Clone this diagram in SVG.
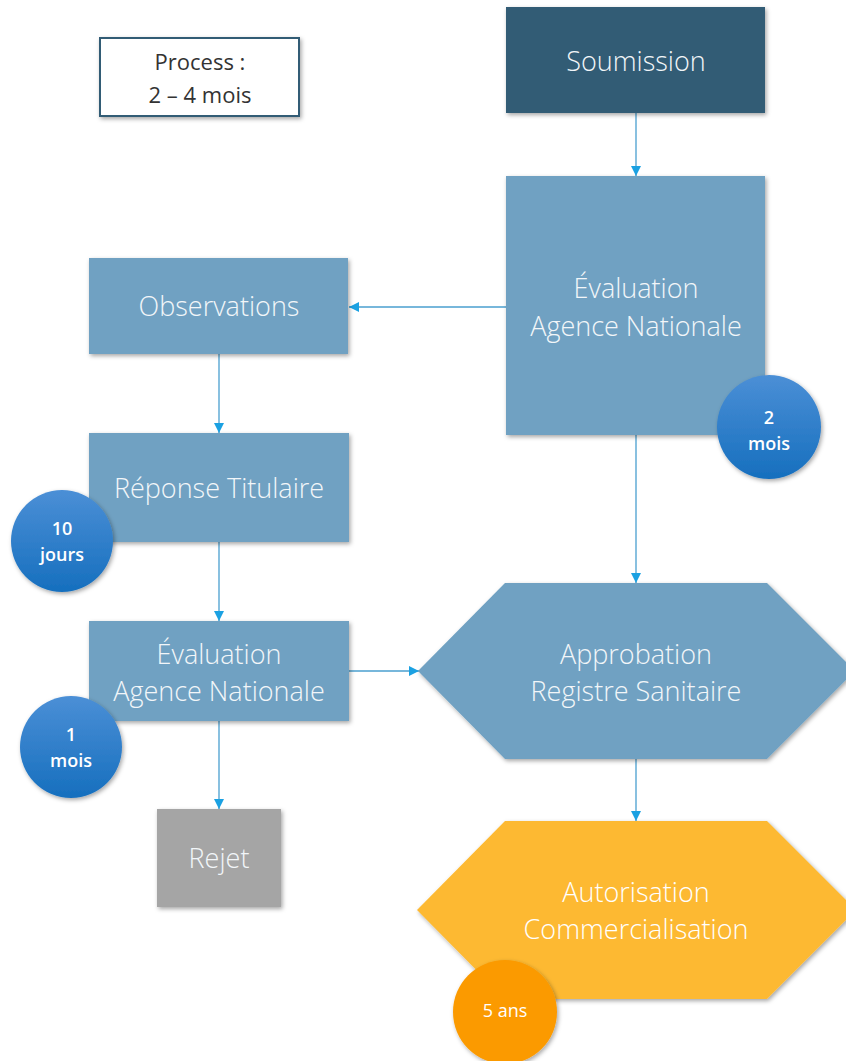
<svg xmlns="http://www.w3.org/2000/svg" width="846" height="1061" viewBox="0 0 846 1061">
<style>
.lbl{font-family:"Open Sans","Noto Sans","Liberation Sans",sans-serif;font-weight:300;font-size:27px;fill:#F2F6F9;text-anchor:middle}
.badge{font-family:"Open Sans","Noto Sans","Liberation Sans",sans-serif;font-weight:600;font-size:18px;fill:#FFFFFF;text-anchor:middle}
.proc{font-family:"Open Sans","Noto Sans","Liberation Sans",sans-serif;font-weight:400;font-size:22px;fill:#333333;text-anchor:middle}
.mid{fill:#6FA1C2}
.conn{stroke:#4A9FCF;stroke-width:1.3;fill:none}
</style>
<defs>
<filter id="sh" x="-20%" y="-20%" width="140%" height="140%">
<feDropShadow dx="1.5" dy="2" stdDeviation="2" flood-color="#000" flood-opacity="0.35"/>
</filter>
<linearGradient id="blueG" x1="0" y1="0" x2="0" y2="1">
<stop offset="0" stop-color="#4B8FD6"/>
<stop offset="1" stop-color="#166FBE"/>
</linearGradient>
<marker id="arr" viewBox="0 0 10 10" refX="10" refY="5" markerWidth="10" markerHeight="10" markerUnits="userSpaceOnUse" orient="auto">
<path d="M0,0 L10,5 L0,10 z" fill="#1BA1E2"/>
</marker>
</defs>

<g id="connectors">
<line class="conn" x1="636" y1="113" x2="636" y2="176" marker-end="url(#arr)"/>
<line class="conn" x1="506" y1="307" x2="349" y2="307" marker-end="url(#arr)"/>
<line class="conn" x1="219" y1="354" x2="219" y2="433" marker-end="url(#arr)"/>
<line class="conn" x1="219" y1="542" x2="219" y2="621" marker-end="url(#arr)"/>
<line class="conn" x1="349" y1="671" x2="419" y2="671" marker-end="url(#arr)"/>
<line class="conn" x1="219" y1="721" x2="219" y2="809" marker-end="url(#arr)"/>
<line class="conn" x1="636" y1="435" x2="636" y2="583" marker-end="url(#arr)"/>
<line class="conn" x1="636" y1="759" x2="636" y2="821" marker-end="url(#arr)"/>
</g>

<g id="process">
<rect x="100" y="38" width="199" height="78" fill="#FFFFFF" stroke="#335B74" stroke-width="2" filter="url(#sh)"/>
<text class="proc" x="200" y="70">Process :</text>
<text class="proc" x="200" y="103">2 – 4 mois</text>
</g>

<g id="soumission">
<rect x="506" y="7" width="259" height="106" fill="#335B74" filter="url(#sh)"/>
<text class="lbl" x="636" y="71">Soumission</text>
</g>

<g id="evaluation1">
<rect class="mid" x="506" y="176" width="259" height="259" filter="url(#sh)"/>
<text class="lbl" x="636" y="298">Évaluation</text>
<text class="lbl" x="636" y="336">Agence Nationale</text>
</g>

<g id="badge2mois">
<circle cx="769" cy="427" r="52" fill="url(#blueG)" filter="url(#sh)"/>
<text class="badge" x="769" y="424">2</text>
<text class="badge" x="769" y="450">mois</text>
</g>

<g id="observations">
<rect class="mid" x="89" y="258" width="259" height="96" filter="url(#sh)"/>
<text class="lbl" x="219" y="316">Observations</text>
</g>

<g id="reponse">
<rect class="mid" x="89" y="433" width="260" height="109" filter="url(#sh)"/>
<text class="lbl" x="219" y="498">Réponse Titulaire</text>
</g>

<g id="badge10jours">
<circle cx="62" cy="541" r="51" fill="url(#blueG)" filter="url(#sh)"/>
<text class="badge" x="62" y="535">10</text>
<text class="badge" x="62" y="561">jours</text>
</g>

<g id="evaluation2">
<rect class="mid" x="89" y="621" width="260" height="100" filter="url(#sh)"/>
<text class="lbl" x="219" y="664">Évaluation</text>
<text class="lbl" x="219" y="701">Agence Nationale</text>
</g>

<g id="badge1mois">
<circle cx="71" cy="747" r="51" fill="url(#blueG)" filter="url(#sh)"/>
<text class="badge" x="71" y="741">1</text>
<text class="badge" x="71" y="767">mois</text>
</g>

<g id="rejet">
<rect x="157" y="809" width="124" height="98" fill="#A5A5A5" filter="url(#sh)"/>
<text class="lbl" x="219" y="868">Rejet</text>
</g>

<g id="approbation">
<polygon class="mid" points="418,671 505,583 767,583 855,671 767,759 505,759" filter="url(#sh)"/>
<text class="lbl" x="636" y="664">Approbation</text>
<text class="lbl" x="636" y="701">Registre Sanitaire</text>
</g>

<g id="autorisation">
<polygon points="417,910 505,821 767,821 856,910 767,999 505,999" fill="#FDB931" filter="url(#sh)"/>
<text class="lbl" x="636" y="902" style="fill:#FFFFFF">Autorisation</text>
<text class="lbl" x="636" y="939" style="fill:#FFFFFF">Commercialisation</text>
</g>

<g id="badge5ans">
<circle cx="505" cy="1012" r="52" fill="#FB9A00" filter="url(#sh)"/>
<text class="badge" x="505" y="1017" style="font-weight:400">5 ans</text>
</g>
</svg>
